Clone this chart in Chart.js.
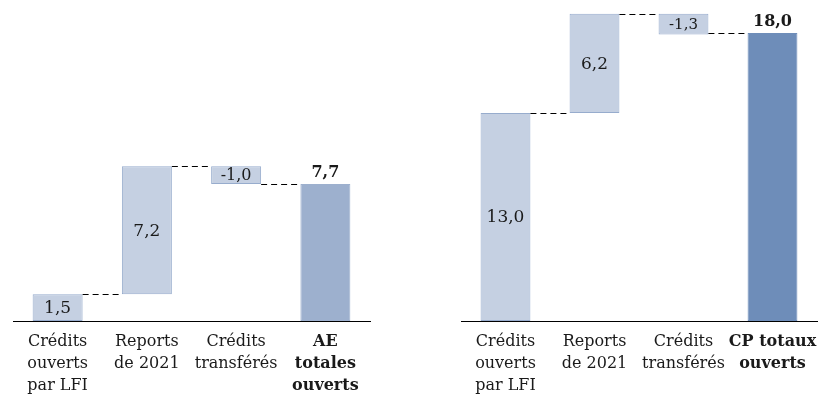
<!DOCTYPE html>
<html>
<head>
<meta charset="utf-8">
<script src="https://cdn.jsdelivr.net/npm/chart.js@4.4.1/dist/chart.umd.min.js"></script>
<style>
	html, body { margin: 0; padding: 0; background: #fff; }
	.wrap { position: absolute; top: 0; width: 385px; height: 406px; }
</style>
</head>
<body>
<div class="wrap" style="left:0"><canvas id="ae"></canvas></div>
<div class="wrap" style="left:445px"><canvas id="cp"></canvas></div>
<script>
const categoriesAE = [['Crédits', 'ouverts', 'par LFI'], ['Reports', 'de 2021'], ['Crédits', 'transférés'], ['AE', 'totales', 'ouverts']];
const categoriesCP = [['Crédits', 'ouverts', 'par LFI'], ['Reports', 'de 2021'], ['Crédits', 'transférés'], ['CP totaux', 'ouverts']];

const stepsAE = [1.5, 7.2, -1.0];
const totalAE = 7.7;
const stepsCP = [13.0, 6.2, -1.3];
const totalCP = 18.0;

const FONT = '"DejaVu Serif", "Liberation Serif", serif';
const TEXT = '#1a1a1a';
const LIGHT = '#c5d0e2';
const LIGHT_BORDER = '#97accd';

function floatingBars (steps, total) {
	let run = 0;
	const bars = steps.map(v => {
		const from = run;
		run += v;
		return [Math.min(from, run), Math.max(from, run)];
	});
	bars.push([0, total]);
	return bars;
}

function fmt (v) {
	return v.toFixed(1).replace('.', ',');
}

const waterfallPlugin = {
	id: 'waterfall',
	afterDatasetsDraw (chart) {
		const ctx = chart.ctx;
		const meta = chart.getDatasetMeta(0);
		const ds = chart.data.datasets[0];
		const y = chart.scales.y;
		const steps = ds.steps;

		// pointillés entre les barres
		ctx.save();
		ctx.strokeStyle = '#000';
		ctx.lineWidth = 1;
		ctx.setLineDash([6, 4]);
		let run = 0;
		for (let i = 0; i < meta.data.length - 1; i++) {
			run += steps[i];
			const a = meta.data[i], b = meta.data[i + 1];
			const level = i === steps.length - 1 ? ds.total : run;
			const yy = Math.round(y.getPixelForValue(level)) + 0.5;
			ctx.beginPath();
			ctx.moveTo(a.x + a.width / 2, yy);
			ctx.lineTo(b.x - b.width / 2, yy);
			ctx.stroke();
		}
		ctx.restore();

		// étiquettes
		ctx.save();
		ctx.fillStyle = TEXT;
		ctx.textAlign = 'center';
		ctx.textBaseline = 'middle';
		meta.data.forEach((bar, i) => {
			if (i < steps.length) {
				ctx.font = (steps[i] < 0 ? ds.negSize : 17) + 'px ' + FONT;
				ctx.fillText(fmt(steps[i]), bar.x, (bar.y + bar.base) / 2 + 1);
			} else {
				ctx.font = 'bold 16px ' + FONT;
				ctx.fillText(fmt(ds.total), bar.x, bar.y - 11);
			}
		});
		ctx.restore();
	}
};

function makeChart (id, labels, steps, total, totalColor, yMax, padLeft, padRight, negSize) {
	return new Chart(document.getElementById(id), {
		type: 'bar',
		data: {
			labels,
			datasets: [{
				data: floatingBars(steps, total),
				steps, total, negSize,
				backgroundColor: [LIGHT, LIGHT, LIGHT, totalColor],
				borderColor: [LIGHT_BORDER, LIGHT_BORDER, LIGHT_BORDER, totalColor],
				borderWidth: 1,
				borderSkipped: false,
				barPercentage: 0.56,
				categoryPercentage: 1
			}]
		},
		options: {
			responsive: true,
			maintainAspectRatio: false,
			animation: false,
			layout: { padding: { left: padLeft, right: padRight, top: 1, bottom: 0 } },
			plugins: { legend: { display: false }, tooltip: { enabled: false } },
			scales: {
				x: {
					grid: { display: false, drawTicks: false },
					border: { display: true, color: '#000', width: 1 },
					ticks: {
						padding: 10,
						maxRotation: 0,
						autoSkip: false,
						color: TEXT,
						font: c => ({ family: FONT, size: 16, lineHeight: 1.375, weight: c.index === 3 ? 'bold' : 'normal' })
					},
					afterFit: s => { s.height = 85; }
				},
				y: { display: false, min: 0, max: yMax }
			}
		},
		plugins: [waterfallPlugin]
	});
}

makeChart('ae', categoriesAE, stepsAE, totalAE, '#9db0ce', 18, 13, 15, 16);
makeChart('cp', categoriesCP, stepsCP, totalCP, '#6e8db9', 20, 16, 13, 15);
</script>
</body>
</html>
